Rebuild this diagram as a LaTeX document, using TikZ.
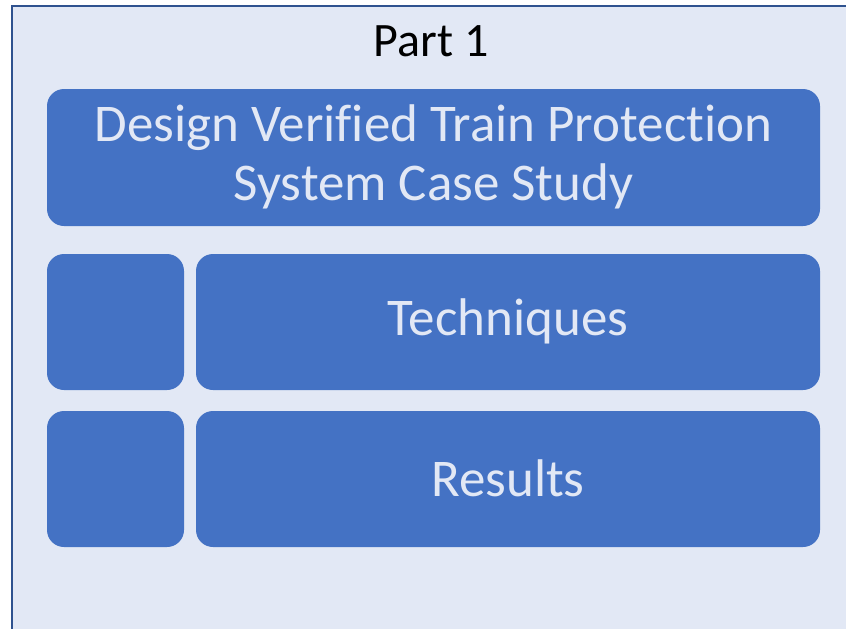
\documentclass[tikz,border=0pt]{standalone}
\usepackage{fontspec}
\setmainfont[Ligatures=NoCommon]{Carlito}
\definecolor{panelfill}{HTML}{E2E8F5}
\definecolor{panelline}{HTML}{2F528F}
\definecolor{boxblue}{HTML}{4472C4}
\tikzset{
  bluebox/.style={fill=boxblue, draw=none, rounded corners=17pt},
  boxtext/.style={text=panelfill, font=\fontsize{53}{59}\selectfont, align=center}
}
\begin{document}
\begin{tikzpicture}[x=1pt, y=-1pt]
        % page
        \useasboundingbox (0,0) rectangle (846,629);
        \clip (0,0) rectangle (846,629);
        \fill[white] (0,0) rectangle (846,629);
        \draw[panelline, fill=panelfill, line width=2.5pt] (12,6) rectangle (860,640);
        % title
        \node[font=\fontsize{48}{56}\selectfont] (title) at (431,41) {Part 1};
        % boxes
        \fill[bluebox] (47,89) rectangle (820,226);
        \fill[bluebox] (47,254) rectangle (184,390);
        \fill[bluebox] (196,254) rectangle (820,390);
        \fill[bluebox] (47,411) rectangle (184,547);
        \fill[bluebox] (196,411) rectangle (820,547);
        % labels
        \node[boxtext] (study) at (433.5,157) {Design Verified Train Protection\\System Case Study};
        \node[boxtext] (techniques) at (508,321) {Techniques};
        \node[boxtext] (results) at (508,478) {Results};
\end{tikzpicture}
\end{document}
